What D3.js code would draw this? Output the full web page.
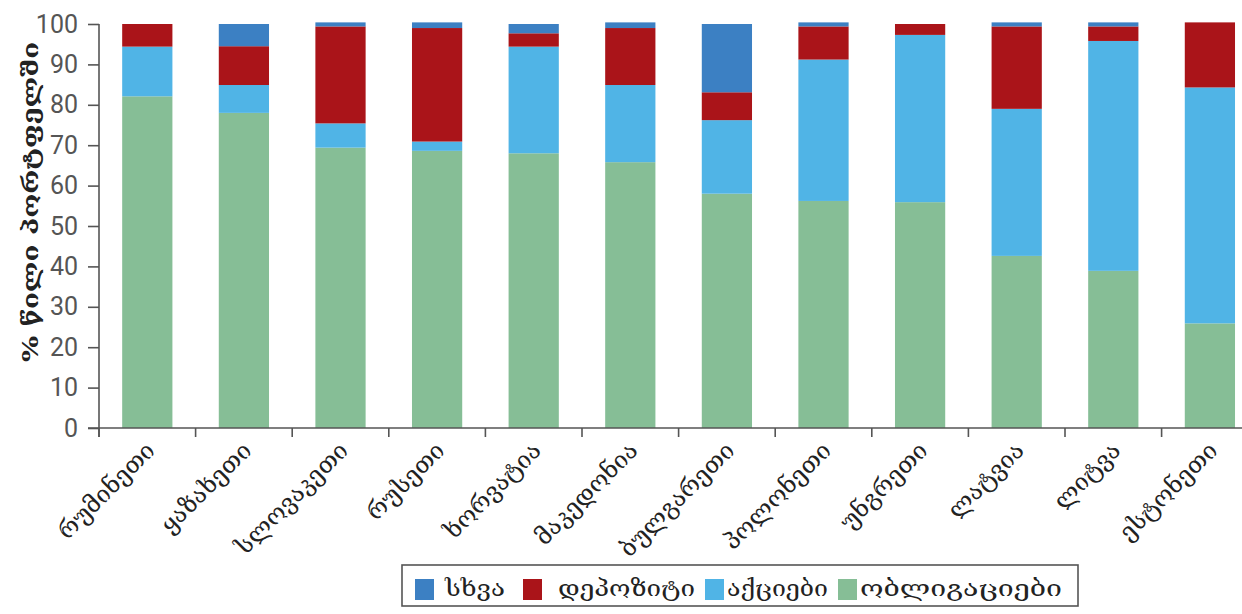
<!DOCTYPE html>
<html>
<head>
<meta charset="utf-8">
<script src="https://cdn.jsdelivr.net/npm/d3@7"></script>
<style>
  html, body { margin: 0; padding: 0; background: #fff; }
  svg { display: block; }
</style>
</head>
<body>
<svg id="chart" width="1242" height="614"></svg>
<script>
// Portfolio composition by country, % share
const countries = ["რუმინეთი","ყაზახეთი","სლოვაკეთი","რუსეთი","ხორვატია","მაკედონია","ბულგარეთი","პოლონეთი","უნგრეთი","ლატვია","ლიტვა","ესტონეთი"];
const bonds    = [82.1, 78.0, 69.4, 68.6, 68.0, 65.8, 58.0, 56.2, 55.9, 42.6, 38.9, 25.9];
const stocks   = [12.3,  6.9,  6.0,  2.3, 26.4, 19.1, 18.2, 35.0, 41.4, 36.4, 56.9, 58.4];
const deposits = [ 5.6,  9.6, 24.0, 28.1,  3.3, 14.1,  6.9,  8.2,  2.7, 20.4,  3.6, 16.1];
const other    = [ 0.0,  5.5,  1.0,  1.4,  2.3,  1.4, 16.9,  1.0,  0.0,  1.0,  1.0,  0.0];

const seriesKeys   = ["bonds", "stocks", "deposits", "other"];
const seriesNames  = { bonds: "ობლიგაციები", stocks: "აქციები", deposits: "დეპოზიტი", other: "სხვა" };
const seriesColors = { bonds: "#86be96", stocks: "#50b4e6", deposits: "#aa1419", other: "#3c80c3" };
const legendOrder  = ["other", "deposits", "stocks", "bonds"];
const yTicks = [0, 10, 20, 30, 40, 50, 60, 70, 80, 90, 100];
const yTitle = "% წილი პორტფელში";

const rows = countries.map((c, i) => ({
  country: c, bonds: bonds[i], stocks: stocks[i], deposits: deposits[i], other: other[i]
}));

const svg = d3.select("#chart");
const axisColor = "#555";
const georgianFont = "'DejaVu Serif', 'DejaVu Sans', serif";

const x = d3.scaleBand()
  .domain(countries)
  .range([99, 99 + 96.6 * countries.length])
  .paddingInner(0.48)
  .paddingOuter(0.24);

const y = d3.scaleLinear().domain([0, 100]).range([428, 24]);

const stacked = d3.stack().keys(seriesKeys)(rows);

// stacked bars
svg.append("g")
  .selectAll("g")
  .data(stacked)
  .join("g")
  .attr("fill", d => seriesColors[d.key])
  .selectAll("rect")
  .data(d => d)
  .join("rect")
  .attr("x", d => x(d.data.country))
  .attr("width", x.bandwidth())
  .attr("y", d => y(d[1]))
  .attr("height", d => y(d[0]) - y(d[1]));

// y axis
const yAxis = svg.append("g")
  .attr("transform", "translate(99,0)")
  .call(d3.axisLeft(y).tickValues(yTicks).tickSize(11).tickPadding(10).tickSizeOuter(0));
yAxis.select(".domain").remove();
yAxis.append("line")
  .attr("x1", 0).attr("x2", 0)
  .attr("y1", y(100)).attr("y2", y(0) + 9)
  .attr("stroke", axisColor).attr("stroke-width", 1.6);
yAxis.selectAll(".tick line").attr("stroke", axisColor).attr("stroke-width", 1.6);
yAxis.selectAll(".tick text")
  .attr("fill", "#555")
  .style("font-family", "'Liberation Sans Narrow', 'Roboto', sans-serif")
  .style("font-size", "25px");

// x axis with ticks at category boundaries
const step = x.step();
const x0 = x.range()[0];
const bounds = d3.range(countries.length + 1).map(i => x0 + i * step);
const xAxis = svg.append("g");
xAxis.append("line")
  .attr("x1", 88).attr("x2", 1242)
  .attr("y1", y(0)).attr("y2", y(0))
  .attr("stroke", axisColor).attr("stroke-width", 1.6);
xAxis.selectAll("line.tk")
  .data(bounds)
  .join("line")
  .attr("class", "tk")
  .attr("x1", d => d).attr("x2", d => d)
  .attr("y1", y(0)).attr("y2", y(0) + 9)
  .attr("stroke", axisColor).attr("stroke-width", 1.6);

// category labels, rotated
svg.append("g")
  .selectAll("text")
  .data(countries)
  .join("text")
  .attr("transform", d => `translate(${x(d) + x.bandwidth() / 2 + 9},${y(0) + 24}) rotate(-45)`)
  .attr("text-anchor", "end")
  .attr("fill", "#222")
  .style("font-family", georgianFont)
  .style("font-size", "24px")
  .text(d => d);

// y title
svg.append("text")
  .attr("transform", "translate(30,202) rotate(-90)")
  .attr("text-anchor", "middle")
  .attr("dy", "0.35em")
  .attr("fill", "#222")
  .attr("textLength", 320)
  .attr("lengthAdjust", "spacingAndGlyphs")
  .style("font-family", georgianFont)
  .style("font-size", "22px")
  .style("font-weight", "bold")
  .text(yTitle);

// legend
const legend = svg.append("g");
legend.append("rect")
  .attr("x", 402).attr("y", 565).attr("width", 676).attr("height", 41)
  .attr("fill", "#fff").attr("stroke", axisColor).attr("stroke-width", 1.6);
const legendSwatchX = { other: 415, deposits: 523, stocks: 705, bonds: 838 };
const legendTextX   = { other: 445, deposits: 558, stocks: 727, bonds: 860 };
const legendTextW   = { other: 60, deposits: 137, stocks: 101, bonds: 202 };
const items = legend.selectAll("g.item")
  .data(legendOrder)
  .join("g")
  .attr("class", "item");
items.append("rect")
  .attr("x", d => legendSwatchX[d]).attr("y", 579)
  .attr("width", 19).attr("height", 21)
  .attr("fill", d => seriesColors[d]);
items.append("text")
  .attr("x", d => legendTextX[d]).attr("y", 596)
  .attr("fill", "#222")
  .attr("textLength", d => legendTextW[d])
  .attr("lengthAdjust", "spacingAndGlyphs")
  .style("font-family", georgianFont)
  .style("font-size", "22px")
  .text(d => seriesNames[d]);
</script>
</body>
</html>
